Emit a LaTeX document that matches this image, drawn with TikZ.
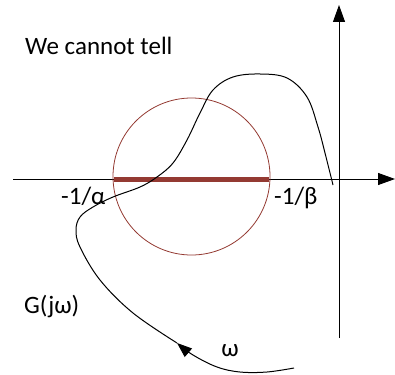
\documentclass[tikz,border=0pt]{standalone}
\usepackage{fontspec}
\setmainfont{Carlito}
\usetikzlibrary{arrows.meta}
\definecolor{darkred}{RGB}{148,58,50}

\begin{document}
\begin{tikzpicture}[x=1pt,y=-1pt,>={Triangle[width=12pt,length=17pt]}, every node/.style={font=\fontsize{25}{30}\selectfont,inner sep=0pt}]
                \useasboundingbox (0,0) rectangle (395,374);
                % axes
                \draw[->,line width=1pt] (13,179) -- (395,179);
                \draw[->,line width=1pt] (339,338) -- (339,5);

                % circle and segment
                \draw[darkred,line width=0.8pt] (191.5,176.5) circle (78.5);
                \draw[darkred,line width=5pt] (114,179) -- (269,179);

                % nyquist curve, split where the arrow sits
                \draw[line width=1pt,-{Triangle[width=11pt,length=15pt]}]
                    plot[smooth,tension=0.6] coordinates {(294,368) (267,372) (240,372) (217,367) (193,355) (177,343)};
                \draw[line width=1pt]
                    plot[smooth,tension=0.6] coordinates {(177,343)
                    (133,313) (100,280) (80,247) (76,230) (80,217) (93,207) (113,197) (140,187) (157,177)
                    (173,163) (187,140) (200,113) (213,90) (233,77) (260,74) (287,78) (307,97) (318,127)
                    (325,153) (333,185)};

                \node[anchor=base west] (tell) at (25,55) {We cannot tell};
                \node[anchor=base west] (alpha) at (61,204) {-1/α};
                \node[anchor=base west] (beta) at (274,204) {-1/β};
                \node[anchor=base west] (gjw) at (24,313) {G(jω)};
                \node[anchor=base] (omega) at (230,356) {ω};
            \end{tikzpicture}
\end{document}
